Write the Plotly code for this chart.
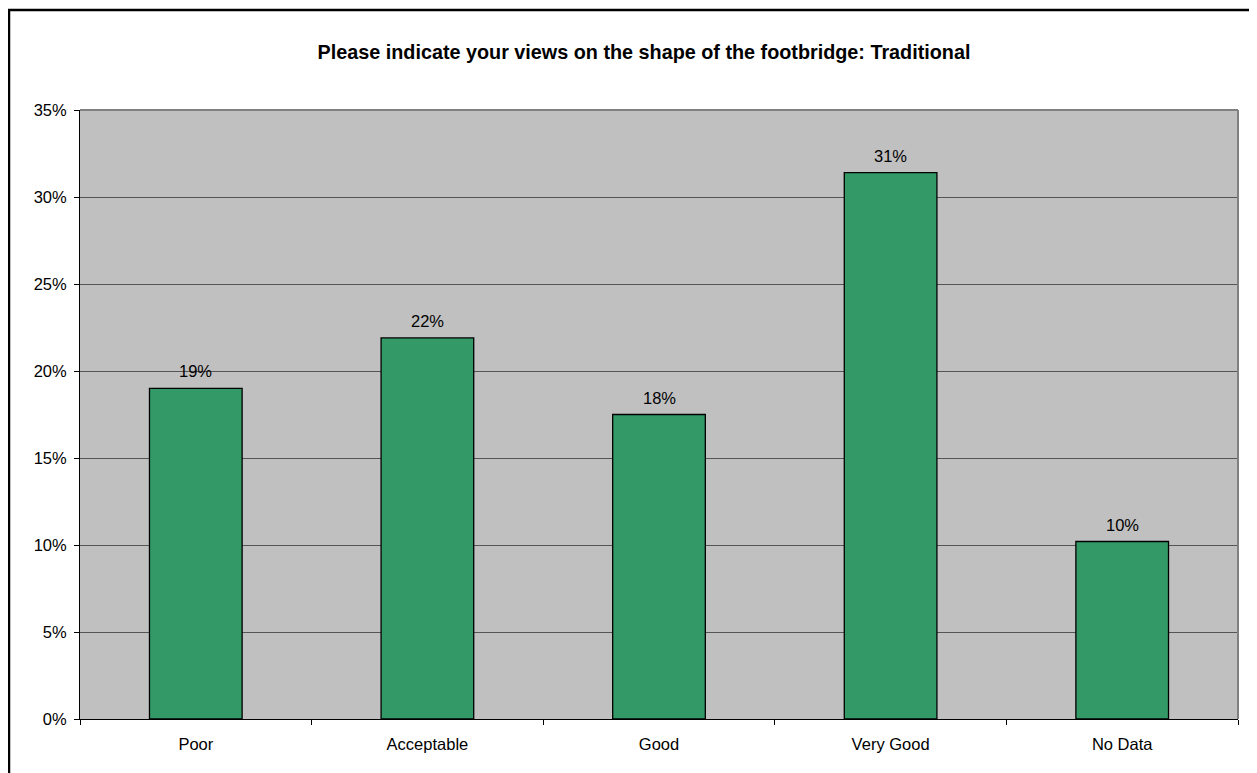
import plotly.graph_objects as go

categories = ["Poor", "Acceptable", "Good", "Very Good", "No Data"]
values = [0.190, 0.219, 0.175, 0.314, 0.102]
labels = ["19%", "22%", "18%", "31%", "10%"]
title_text = "Please indicate your views on the shape of the footbridge: Traditional"

OFF = 8  # page body margin
W, H = 1257 - OFF, 773 - OFF
L, R, T, B = 80 - OFF, 19, 110 - OFF, 54
pw = W - L - R
ph = H - T - B
FONT = "Liberation Sans, Arial"

fig = go.Figure()
fig.add_trace(go.Bar(
    x=categories, y=values, width=0.4,
    marker=dict(color="#339966", line=dict(color="#000000", width=1.3)),
    cliponaxis=False,
))
for c, v, t in zip(categories, values, labels):
    fig.add_annotation(x=c, y=v, text=t, showarrow=False, yanchor="bottom",
                       yshift=6, font=dict(family=FONT, size=16.5, color="#000000"))

fig.update_layout(
    width=W, height=H,
    margin=dict(l=L, r=R, t=T, b=B, autoexpand=False),
    paper_bgcolor="white", plot_bgcolor="#C0C0C0",
    showlegend=False,
    font=dict(family=FONT, size=16.5, color="#000000"),
    title=dict(text="<b>" + title_text + "</b>", x=(644 - OFF) / W, xanchor="center",
               y=1 - (52 - OFF) / H, yanchor="middle",
               font=dict(size=19.8, color="#000000", family=FONT)),
    xaxis=dict(tickson="boundaries", ticks="outside", ticklen=5, tickcolor="#000000",
               showline=True, linecolor="#000000", linewidth=1, showgrid=False,
               tickfont=dict(size=16.5), range=[-0.5, 4.5], ticklabelstandoff=10),
    yaxis=dict(range=[0, 0.35], dtick=0.05, tickformat=".0%", ticks="outside",
               ticklen=5, tickcolor="#000000", showline=True, linecolor="#000000",
               linewidth=1, gridcolor="#555555", gridwidth=1, zeroline=False,
               tickfont=dict(size=16.5), ticklabelstandoff=4),
)

# plot-area border (top and right, gray)
fig.add_shape(type="line", xref="paper", yref="paper", x0=0, x1=1, y0=1, y1=1,
              line=dict(color="#808080", width=2))
fig.add_shape(type="line", xref="paper", yref="paper", x0=1, x1=1, y0=0, y1=1,
              line=dict(color="#808080", width=2))

# chart outer border (left and top visible)
fig.add_shape(type="rect", xref="paper", yref="paper",
              x0=(9 - 80) / pw, x1=1.2, y0=-0.3, y1=(719 - 10) / ph,
              line=dict(color="#000000", width=2.5), layer="above")

fig.write_html("out.html")
